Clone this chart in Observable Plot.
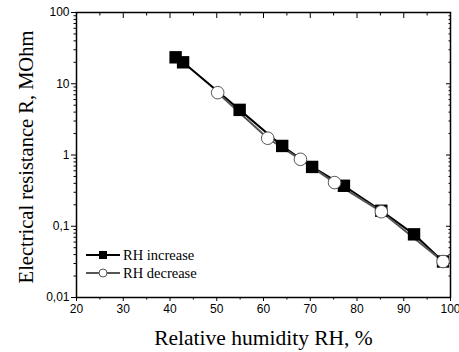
<!DOCTYPE html>
<html>
<head>
<meta charset="utf-8">
<script src="https://cdn.jsdelivr.net/npm/d3@7"></script>
<script src="https://cdn.jsdelivr.net/npm/@observablehq/plot@0.6"></script>
<style>
  html, body { margin: 0; padding: 0; background: #fff; }
  #chart { position: relative; width: 459px; height: 352px; }
</style>
</head>
<body>
<div id="chart"></div>
<script>
// ---- data ----
const incX = [41.2, 42.8, 54.9, 64.0, 70.4, 77.2, 85.2, 92.2, 98.4];
const incY = [23.5, 20, 4.3, 1.34, 0.68, 0.37, 0.165, 0.077, 0.032];
const decX = [50.2, 60.9, 67.9, 75.2, 85.2, 98.4];
const decY = [7.5, 1.72, 0.87, 0.41, 0.16, 0.032];

const xMajor = [20, 30, 40, 50, 60, 70, 80, 90, 100];
const xMinor = [25, 35, 45, 55, 65, 75, 85, 95];
const yMajor = [0.01, 0.1, 1, 10, 100];
const yMinor = [0.01, 0.1, 1, 10].flatMap(d => [2,3,4,5,6,7,8,9].map(m => +(d * m).toPrecision(3)));
const seriesNames = ["RH increase", "RH decrease"];
const xTitle = "Relative humidity RH, %";
const yTitle = "Electrical resistance R, MOhm";

const inc = incX.map((x, i) => ({x, y: incY[i]}));
const dec = decX.map((x, i) => ({x, y: decY[i]}));

const sans = "'Liberation Sans', Arial, sans-serif";
const serif = "'Liberation Serif', 'Times New Roman', serif";
const fmt = d => String(d).replace(".", ",");

const plot = Plot.plot({
  width: 459,
  height: 352,
  marginLeft: 76,
  marginRight: 9,
  marginTop: 12,
  marginBottom: 55,
  style: {fontFamily: sans, fontSize: "12px", background: "white", color: "black", overflow: "visible"},
  x: {domain: [20, 100]},
  y: {type: "log", domain: [0.01, 100]},
  marks: [
    // bottom axis (outward ticks)
    Plot.axisX({ticks: xMajor, tickSize: 4, tickPadding: 3, fontSize: 12, label: null, tickFormat: d => d}),
    Plot.axisX({ticks: xMinor, tickSize: 2.5, fill: "none", label: null}),
    // top axis (inward ticks)
    Plot.axisX({anchor: "top", ticks: xMajor, tickSize: 5, dy: 5, fill: "none", label: null}),
    Plot.axisX({anchor: "top", ticks: xMinor, tickSize: 2.5, dy: 2.5, fill: "none", label: null}),
    // left axis (outward ticks)
    Plot.axisY({ticks: yMajor, tickSize: 5, tickPadding: 2, fontSize: 12, tickFormat: fmt, label: null}),
    Plot.axisY({ticks: yMinor, tickSize: 2.5, fill: "none", label: null}),
    // right axis (inward ticks)
    Plot.axisY({anchor: "right", ticks: yMajor, tickSize: 5, dx: -5, fill: "none", label: null}),
    Plot.axisY({anchor: "right", ticks: yMinor, tickSize: 2.5, dx: -2.5, fill: "none", label: null}),
    Plot.frame({stroke: "black", strokeWidth: 1.5}),
    // series
    Plot.line(inc, {x: "x", y: "y", stroke: "black", strokeWidth: 2}),
    Plot.line(dec, {x: "x", y: "y", stroke: "#555", strokeWidth: 2}),
    Plot.dot(inc, {x: "x", y: "y", symbol: "square", r: 7, fill: "black", stroke: "none"}),
    Plot.dot(dec, {x: "x", y: "y", symbol: "circle", r: 6.3, fill: "white", stroke: "#555", strokeWidth: 1}),
    // axis titles
    Plot.text([xTitle], {frameAnchor: "bottom", dy: 41, textAnchor: "middle", lineAnchor: "middle", fontFamily: serif, fontSize: 21.5, fill: "black"}),
    Plot.text([yTitle], {frameAnchor: "left", dx: -50, dy: 2, rotate: -90, textAnchor: "middle", lineAnchor: "middle", fontFamily: serif, fontSize: 20.5, fill: "black"})
  ]
});

document.getElementById("chart").appendChild(plot);

// legend drawn inside the plot SVG
const svg = d3.select(plot);
const leg = svg.append("g").attr("class", "legend");
const legendItems = [
  {name: seriesNames[0], stroke: "black", symbol: "square", y: 255},
  {name: seriesNames[1], stroke: "#555", symbol: "circle", y: 273}
];
legendItems.forEach(it => {
  const g = leg.append("g").attr("transform", `translate(86,${it.y})`);
  g.append("line").attr("x1", 0).attr("x2", 34).attr("y1", 0).attr("y2", 0)
    .attr("stroke", it.stroke).attr("stroke-width", 2);
  if (it.symbol === "square") {
    g.append("rect").attr("x", 13).attr("y", -4).attr("width", 8).attr("height", 8).attr("fill", "black");
  } else {
    g.append("circle").attr("cx", 17).attr("cy", 0).attr("r", 4).attr("fill", "white")
      .attr("stroke", "#555").attr("stroke-width", 1);
  }
  g.append("text").attr("x", 37).attr("y", 5).attr("text-anchor", "start")
    .attr("font-family", serif).attr("font-size", 14.5)
    .attr("fill", "black").text(it.name);
});
</script>
</body>
</html>
